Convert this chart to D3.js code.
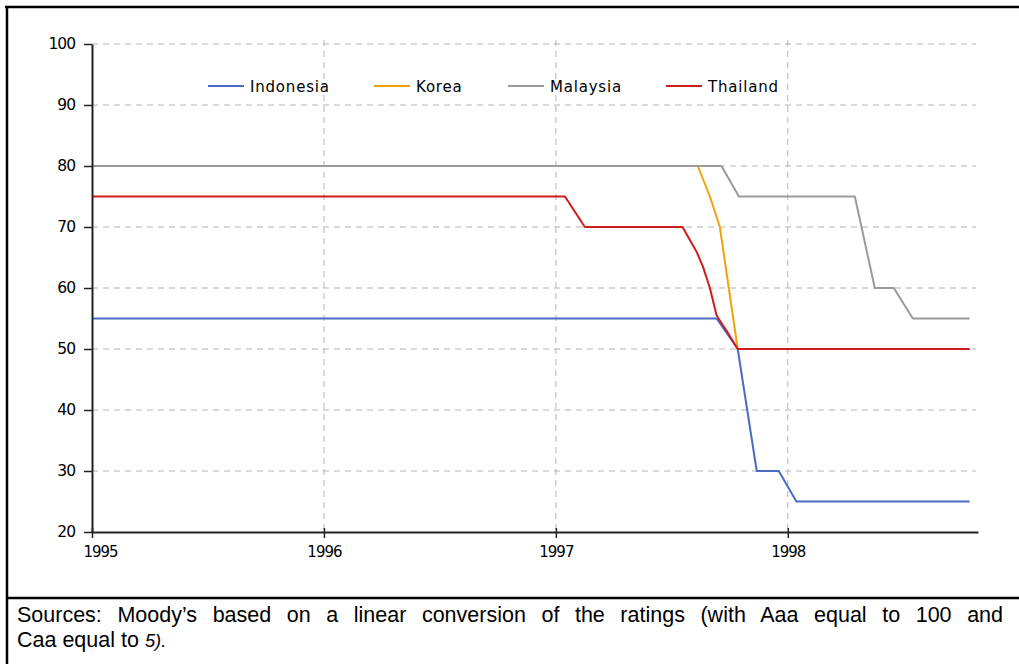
<!DOCTYPE html>
<html><head><meta charset="utf-8">
<script src="https://cdn.jsdelivr.net/npm/d3@7"></script>
<style>
html,body{margin:0;padding:0;background:#fff;}
svg{display:block;}
</style></head>
<body>
<svg id="chart" width="1019" height="664"></svg>
<script>
// ---- data (x in decimal years) ----
const seriesNames = ["Indonesia", "Korea", "Malaysia", "Thailand"];
const indonesiaX = [1995, 1997.693, 1997.784, 1997.866, 1997.961, 1998.037, 1998.784];
const indonesiaY = [55, 55, 50, 30, 30, 25, 25];
const koreaX = [1995, 1997.612, 1997.664, 1997.707, 1997.784, 1998.784];
const koreaY = [80, 80, 75, 70, 50, 50];
const malaysiaX = [1995, 1997.714, 1997.789, 1998.289, 1998.375, 1998.457, 1998.539, 1998.784];
const malaysiaY = [80, 80, 75, 75, 60, 60, 55, 55];
const thailandX = [1995, 1997.039, 1997.125, 1997.546, 1997.606, 1997.634, 1997.664, 1997.693, 1997.736, 1997.784, 1998.784];
const thailandY = [75, 75, 70, 70, 66, 63.5, 60, 55.5, 53, 50, 50];
const xTicks = [1995, 1996, 1997, 1998];
const yTicks = [20, 30, 40, 50, 60, 70, 80, 90, 100];
const footerLine1 = "Sources: Moody\u2019s based on a linear conversion of the ratings (with Aaa equal to 100 and";
const footerLine2a = "Caa equal to ";
const footerLine2b = "5).";

const colors = ["#4a6cc4", "#f0a30a", "#9a9a9a", "#d01c1c"];
const seriesX = [indonesiaX, koreaX, malaysiaX, thailandX];
const seriesY = [indonesiaY, koreaY, malaysiaY, thailandY];

const svg = d3.select("#chart");

// ---- frame ----
svg.append("line").attr("x1", 5).attr("x2", 1019).attr("y1", 7).attr("y2", 7)
  .attr("stroke", "#000").attr("stroke-width", 2.5);
svg.append("line").attr("x1", 7).attr("x2", 7).attr("y1", 6).attr("y2", 664)
  .attr("stroke", "#000").attr("stroke-width", 2.5);
svg.append("line").attr("x1", 6).attr("x2", 1019).attr("y1", 598).attr("y2", 598)
  .attr("stroke", "#000").attr("stroke-width", 2.5);

// ---- scales ----
const x = d3.scaleLinear().domain([1995, 1998.82]).range([92, 978]);
const y = d3.scaleLinear().domain([20, 100]).range([532, 44]);

const tickFont = "'DejaVu Sans', Verdana, sans-serif";

// grid
const grid = svg.append("g");
grid.selectAll("line.h").data(yTicks.filter(d => d > 20)).enter().append("line")
  .attr("x1", x(1995)).attr("x2", 976)
  .attr("y1", d => y(d)).attr("y2", d => y(d))
  .attr("stroke", "#b4b4b4").attr("stroke-width", 1).attr("stroke-dasharray", "6,5");
grid.selectAll("line.v").data(xTicks.filter(d => d > 1995)).enter().append("line")
  .attr("x1", d => x(d)).attr("x2", d => x(d))
  .attr("y1", y(100) - 4).attr("y2", y(20))
  .attr("stroke", "#b4b4b4").attr("stroke-width", 1).attr("stroke-dasharray", "6,5");

// series
const line = d3.line().x(d => x(d[0])).y(d => y(d[1]));
seriesNames.forEach((name, i) => {
  const pts = seriesX[i].map((v, j) => [v, seriesY[i][j]]);
  svg.append("path").datum(pts).attr("d", line)
    .attr("fill", "none").attr("stroke", colors[i]).attr("stroke-width", 2)
    .attr("stroke-linejoin", "round");
});

// y axis
const yAxis = svg.append("g").attr("transform", `translate(${x(1995)},0)`)
  .call(d3.axisLeft(y).tickValues(yTicks).tickSize(8).tickSizeOuter(0).tickPadding(9));
yAxis.select(".domain").attr("stroke", "#222").attr("stroke-width", 2);
yAxis.selectAll(".tick line").attr("stroke", "#222").attr("stroke-width", 1.5);
yAxis.selectAll(".tick text").attr("font-family", tickFont).attr("font-size", 15.5)
  .attr("letter-spacing", "-1").attr("fill", "#000");

// x axis
const xAxis = svg.append("g").attr("transform", `translate(0,${y(20)})`)
  .call(d3.axisBottom(x).tickValues(xTicks).tickFormat(d3.format("d")).tickSize(6).tickSizeOuter(0).tickPadding(8));
xAxis.select(".domain").attr("stroke", "#222").attr("stroke-width", 2);
xAxis.selectAll(".tick line").attr("stroke", "#222").attr("stroke-width", 1.5).attr("y1", -4);
xAxis.selectAll(".tick text").attr("font-family", tickFont).attr("font-size", 15)
  .attr("letter-spacing", "-1").attr("fill", "#000")
  .attr("dx", d => d === 1995 ? 8 : 0);

// legend
const legendX = [208, 374, 508, 666];
const legendY = 86;
const lg = svg.append("g");
seriesNames.forEach((name, i) => {
  lg.append("line").attr("x1", legendX[i]).attr("x2", legendX[i] + 36)
    .attr("y1", legendY).attr("y2", legendY)
    .attr("stroke", colors[i]).attr("stroke-width", 2);
  lg.append("text").attr("x", legendX[i] + 42).attr("y", legendY + 5.5)
    .attr("font-family", tickFont).attr("font-size", 15).attr("letter-spacing", "0.8")
    .attr("fill", "#000").text(name);
});

// footer (justified first line via word spacing)
const footFont = "'Liberation Sans', Arial, sans-serif";
const fs = 21.5;
const f1 = svg.append("text").attr("x", 17).attr("y", 622)
  .attr("font-family", footFont).attr("font-size", fs).attr("fill", "#000").text(footerLine1);
const w = f1.node().getComputedTextLength();
const nSpaces = footerLine1.split(" ").length - 1;
f1.attr("word-spacing", Math.max(0, (986 - w) / nSpaces));
const f2 = svg.append("text").attr("x", 17).attr("y", 647)
  .attr("font-family", footFont).attr("font-size", fs).attr("fill", "#000");
f2.append("tspan").text(footerLine2a);
f2.append("tspan").attr("font-style", "italic").attr("font-size", fs * 0.85).text(footerLine2b);
</script>
</body></html>
